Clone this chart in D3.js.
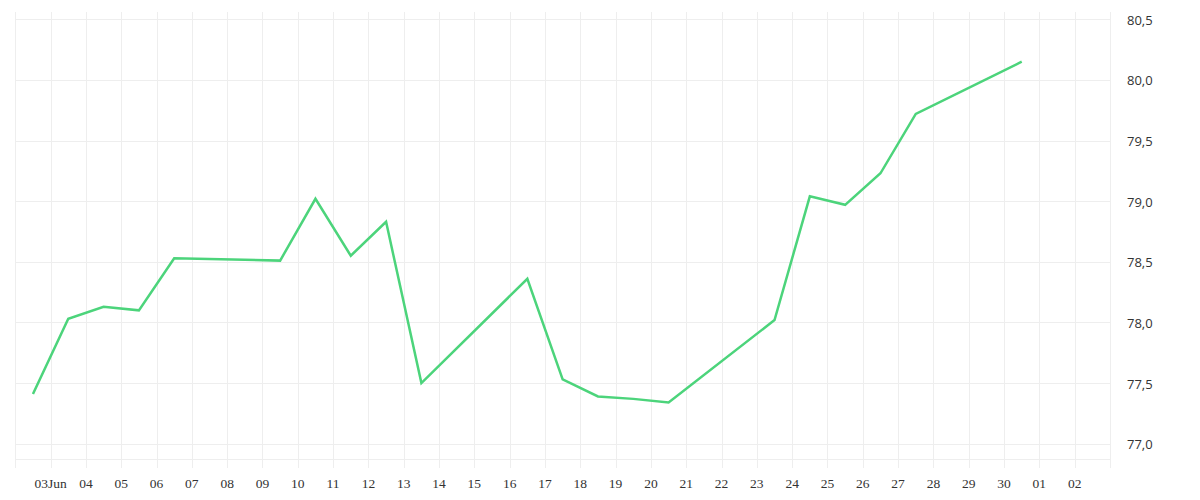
<!DOCTYPE html>
<html>
<head>
<meta charset="utf-8">
<script src="https://cdn.jsdelivr.net/npm/d3@7"></script>
<style>
  body { margin: 0; background: #fff; }
  .grid line { stroke: #eeeeee; stroke-width: 1; shape-rendering: crispEdges; }
  .ylbl { font-family: "Open Sans", "Noto Sans", sans-serif; font-size: 13px; fill: #333; }
  .xlbl { font-family: "Liberation Serif", "DejaVu Serif", serif; font-size: 13.5px; fill: #333; }
</style>
</head>
<body>
<div id="chart"></div>
<script>
// daily closes, weekdays only
var dates = ["2025-06-02", "2025-06-03", "2025-06-04", "2025-06-05", "2025-06-06",
             "2025-06-09", "2025-06-10", "2025-06-11", "2025-06-12", "2025-06-13",
             "2025-06-16", "2025-06-17", "2025-06-18", "2025-06-19", "2025-06-20",
             "2025-06-23", "2025-06-24", "2025-06-25", "2025-06-26", "2025-06-27",
             "2025-06-30"];
var values = [77.41, 78.03, 78.13, 78.10, 78.53,
              78.51, 79.02, 78.55, 78.83, 77.50,
              78.36, 77.53, 77.39, 77.37, 77.34,
              78.02, 79.04, 78.97, 79.23, 79.72,
              80.15];
var yTicks = [77.0, 77.5, 78.0, 78.5, 79.0, 79.5, 80.0, 80.5];
var xTickLabels = ["03Jun", "04", "05", "06", "07", "08", "09", "10", "11", "12",
                   "13", "14", "15", "16", "17", "18", "19", "20", "21", "22",
                   "23", "24", "25", "26", "27", "28", "29", "30", "01", "02"];

var W = 1200, H = 500;
var plot = { left: 15.3, right: 1110, top: 12, bottom: 468 };

var parse = d3.timeParse("%Y-%m-%d");
var data = dates.map(function(d, i) {
    return { date: d3.timeHour.offset(parse(d), 12), value: values[i] };
});

var x = d3.scaleTime()
    .domain([parse("2025-06-02"), parse("2025-07-03")])
    .range([plot.left, plot.right]);

var y = d3.scaleLinear()
    .domain([76.8, 80.56])
    .range([plot.bottom, plot.top]);

var svg = d3.select("#chart").append("svg")
    .attr("width", W)
    .attr("height", H);

var days = d3.timeDay.range(parse("2025-06-02"), d3.timeDay.offset(parse("2025-07-03"), 1));

var grid = svg.append("g").attr("class", "grid");

// vertical day lines
grid.selectAll(".vl")
    .data(days).enter().append("line")
    .attr("x1", function(d) { return Math.round(x(d)) + 0.5; })
    .attr("x2", function(d) { return Math.round(x(d)) + 0.5; })
    .attr("y1", plot.top)
    .attr("y2", plot.bottom);

// horizontal value lines
grid.selectAll(".hl")
    .data(yTicks).enter().append("line")
    .attr("x1", plot.left)
    .attr("x2", plot.right)
    .attr("y1", function(d) { return Math.round(y(d)) + 0.5; })
    .attr("y2", function(d) { return Math.round(y(d)) + 0.5; });

// base line under the lowest tick
grid.append("line")
    .attr("x1", plot.left)
    .attr("x2", plot.right)
    .attr("y1", Math.round(y(76.875)) + 0.5)
    .attr("y2", Math.round(y(76.875)) + 0.5);

// y labels on the right
svg.selectAll(".ylbl")
    .data(yTicks).enter().append("text")
    .attr("class", "ylbl")
    .attr("x", 1127)
    .attr("y", function(d) { return y(d) + 1; })
    .attr("dy", "0.35em")
    .text(function(d) { return d3.format(".1f")(d).replace(".", ","); });

// x labels, one per day from 3 Jun to 2 Jul
var labelDays = days.slice(1, 1 + xTickLabels.length);
svg.selectAll(".xlbl")
    .data(labelDays).enter().append("text")
    .attr("class", "xlbl")
    .attr("x", function(d) { return x(d); })
    .attr("y", 488)
    .attr("text-anchor", "middle")
    .text(function(d, i) { return xTickLabels[i]; });

var line = d3.line()
    .x(function(d) { return x(d.date); })
    .y(function(d) { return y(d.value); });

svg.append("path")
    .datum(data)
    .attr("fill", "none")
    .attr("stroke", "#4cd47b")
    .attr("stroke-width", 2.5)
    .attr("stroke-linejoin", "miter")
    .attr("d", line);
</script>
</body>
</html>
